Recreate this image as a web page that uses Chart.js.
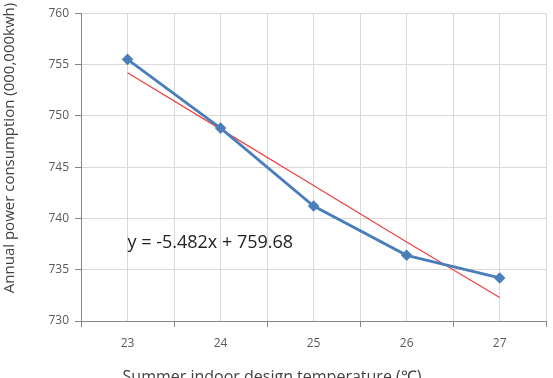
<!DOCTYPE html>
<html>
<head>
<meta charset="utf-8">
<script src="https://cdn.jsdelivr.net/npm/chart.js@4"></script>
<style>
  html, body { margin: 0; padding: 0; background: #fff; }
  #wrap { width: 553px; height: 378px; }
</style>
</head>
<body>
<div id="wrap"><canvas id="powerChart" width="553" height="378"></canvas></div>
<script>
// summer indoor design temperature (C)
var temps = [23, 24, 25, 26, 27];
// annual power consumption (000,000 kwh)
var consumption = [755.5, 748.8, 741.2, 736.4, 734.2];
// linear trend line as drawn on the chart
var trend = [754.2, 748.7, 743.2, 737.7, 732.3];
var yTicks = [730, 735, 740, 745, 750, 755, 760];
var equationText = 'y = -5.482x + 759.68';
var xTitle = 'Summer indoor design temperature (\u2103)';
var yTitle = 'Annual power consumption (000,000kwh)';

// equation and axis titles, placed like the original spreadsheet chart
var extraText = {
    id: 'extraText',
    afterDatasetsDraw: function (chart) {
        var ctx = chart.ctx;
        var x = chart.scales.x.getPixelForValue(23);
        var y = chart.scales.y.getPixelForValue(737.6);
        ctx.save();
        ctx.font = '18px "Open Sans"';
        ctx.fillStyle = '#222';
        ctx.textBaseline = 'middle';
        ctx.textAlign = 'left';
        ctx.fillText(equationText, x, y);

        ctx.fillStyle = '#404040';
        ctx.font = '16px "Open Sans"';
        ctx.textAlign = 'center';
        ctx.textBaseline = 'alphabetic';
        ctx.fillText(xTitle, 272, 382);

        ctx.font = '15px "Open Sans"';
        ctx.translate(10, 148);
        ctx.rotate(-Math.PI / 2);
        ctx.textBaseline = 'middle';
        ctx.fillText(yTitle, 0, 0);
        ctx.restore();
    }
};

var ctx = document.getElementById('powerChart').getContext('2d');
var powerChart = new Chart(ctx, {
    type: 'line',
    data: {
        datasets: [{
            label: 'Annual power consumption',
            data: temps.map(function (t, i) { return { x: t, y: consumption[i] }; }),
            borderColor: '#4a7ebb',
            backgroundColor: '#4a7ebb',
            borderWidth: 2.8,
            pointStyle: 'rectRot',
            pointRadius: 3.8,
            tension: 0
        }, {
            label: 'Linear trend',
            data: temps.map(function (t, i) { return { x: t, y: trend[i] }; }),
            borderColor: '#f04040',
            borderWidth: 1.2,
            pointRadius: 0,
            tension: 0
        }]
    },
    options: {
        responsive: false,
        animation: false,
        layout: { padding: { left: 0, right: 6, top: 13, bottom: 0 } },
        plugins: {
            legend: { display: false },
            tooltip: { enabled: false }
        },
        scales: {
            x: {
                type: 'linear',
                min: 22.5,
                max: 27.5,
                afterBuildTicks: function (scale) {
                    var t = [];
                    for (var v = 22.5; v <= 27.5; v += 0.5) t.push({ value: v });
                    scale.ticks = t;
                },
                afterFit: function (scale) {
                    scale.height = 57;
                    scale.paddingRight = 0;
                    scale.paddingLeft = 0;
                },
                ticks: {
                    autoSkip: false,
                    maxRotation: 0,
                    padding: 9,
                    color: '#595959',
                    font: { family: 'Open Sans', size: 12 },
                    callback: function (v) { return v % 1 === 0 ? String(v) : ''; }
                },
                grid: {
                    color: '#d9d9d9',
                    tickLength: 6,
                    tickColor: function (c) {
                        return c.tick && c.tick.value % 1 === 0 ? 'rgba(0,0,0,0)' : '#868686';
                    }
                },
                border: { color: '#868686' }
            },
            y: {
                min: 730,
                max: 760,
                afterBuildTicks: function (scale) {
                    scale.ticks = yTicks.map(function (v) { return { value: v }; });
                },
                afterFit: function (scale) { scale.width = 81; },
                ticks: {
                    padding: 6,
                    color: '#595959',
                    font: { family: 'Open Sans', size: 12 }
                },
                grid: { color: '#d9d9d9', tickLength: 6, tickColor: '#868686' },
                border: { color: '#868686' }
            }
        }
    },
    plugins: [extraText]
});
</script>
</body>
</html>
